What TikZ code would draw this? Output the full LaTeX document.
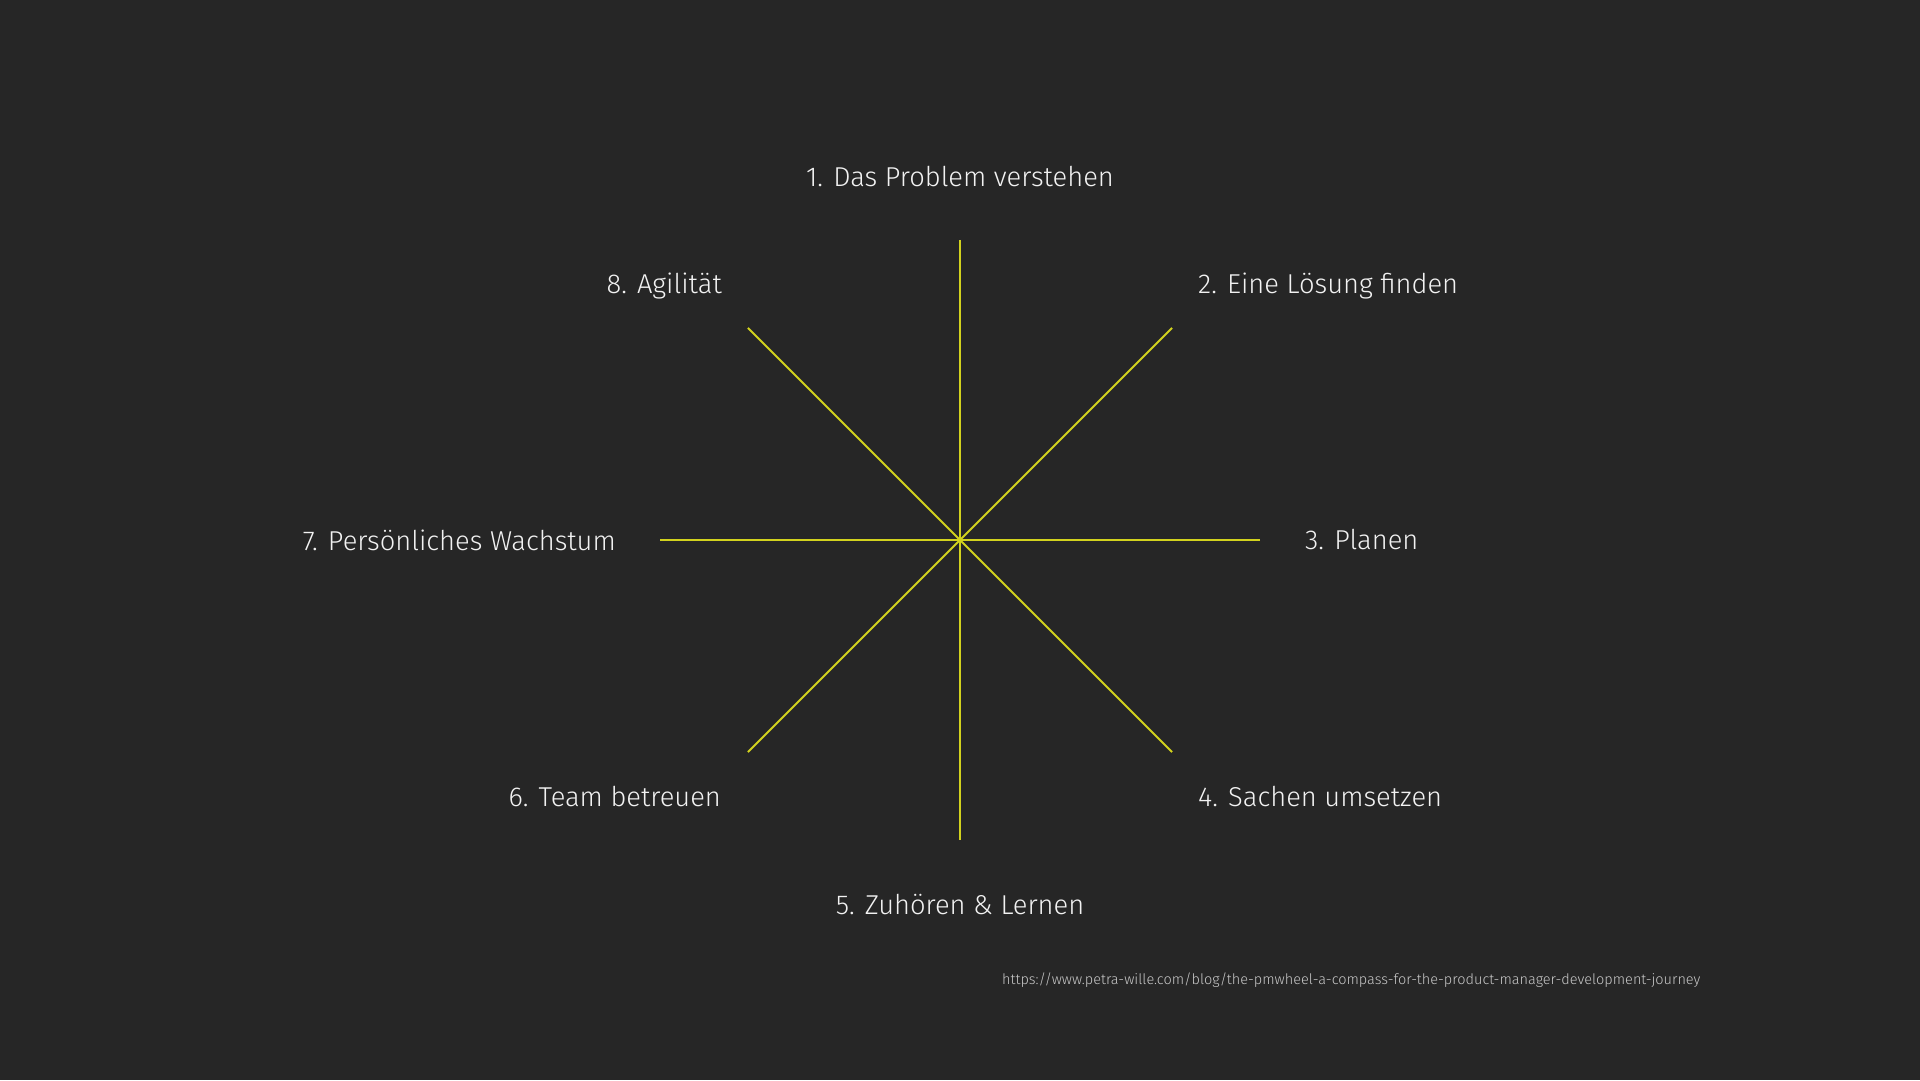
\documentclass[tikz,border=0pt]{standalone}
\usepackage{fontspec}
\setmainfont{Fira Sans Light}
\definecolor{bg}{HTML}{262626}
\definecolor{spoke}{HTML}{D2D21E}
\definecolor{txt}{HTML}{F2F2F2}
\definecolor{urlc}{HTML}{C8C8C8}
\begin{document}
\begin{tikzpicture}[x=1pt,y=1pt,
  spokeline/.style={draw=spoke,line width=2pt},
  lbl/.style={text=txt,font=\fontsize{27.3}{31}\selectfont,inner sep=0pt},
  urltxt/.style={text=urlc,font=\fontsize{14.5}{17}\selectfont,inner sep=0pt}]
\fill[bg] (0,0) rectangle (1920,1080);
\useasboundingbox (0,0) rectangle (1920,1080);
\coordinate (c) at (960,540);
\coordinate (pN) at (960,840);
\coordinate (pS) at (960,240);
\coordinate (pE) at (1260,540);
\coordinate (pW) at (660,540);
\coordinate (pNE) at (1172.1,752.1);
\coordinate (pNW) at (747.9,752.1);
\coordinate (pSE) at (1172.1,327.9);
\coordinate (pSW) at (747.9,327.9);
\draw[spokeline] (pN) -- (pS);
\draw[spokeline] (pE) -- (pW);
\draw[spokeline] (pNE) -- (pSW);
\draw[spokeline] (pNW) -- (pSE);
\node[lbl,anchor=center] (l1) at (960,903) {1. Das Problem verstehen};
\node[lbl,anchor=west] (l2) at (1198,794) {2. Eine Lösung finden};
\node[lbl,anchor=west] (l3) at (1305,540) {3. Planen};
\node[lbl,anchor=west] (l4) at (1198,283) {4. Sachen umsetzen};
\node[lbl,anchor=center] (l5) at (960,175) {5. Zuhören \& Lernen};
\node[lbl,anchor=east] (l6) at (721,283) {6. Team betreuen};
\node[lbl,anchor=east] (l7) at (616,540) {7. Persönliches Wachstum};
\node[lbl,anchor=east] (l8) at (722,794) {8. Agilität};
\node[urltxt,anchor=west] (url) at (1002,100) {https://www.petra-wille.com/blog/the-pmwheel-a-compass-for-the-product-manager-development-journey};
\end{tikzpicture}
\end{document}
